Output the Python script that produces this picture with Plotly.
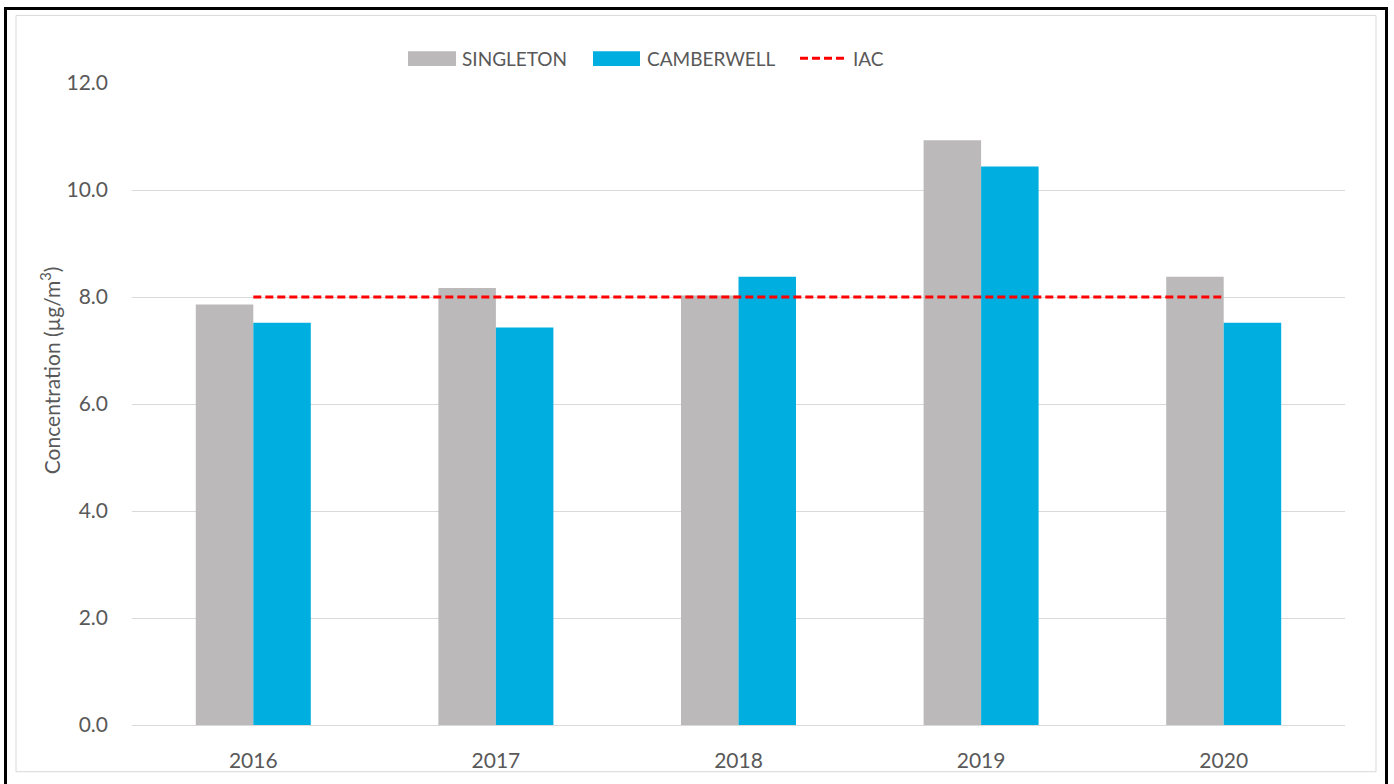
import plotly.graph_objects as go

# Annual mean concentrations by monitoring site
years = ["2016", "2017", "2018", "2019", "2020"]
singleton = [7.86, 8.17, 8.03, 10.93, 8.38]
camberwell = [7.52, 7.43, 8.38, 10.44, 7.52]
iac = [8.0, 8.0, 8.0, 8.0, 8.0]
y_ticks = [0, 2, 4, 6, 8, 10, 12]
y_tick_labels = ["0.0", "2.0", "4.0", "6.0", "8.0", "10.0", "12.0"]

GREY = "#bbb9ba"
BLUE = "#00afdf"
RED = "#ff0000"
TEXT = "#595959"
FONT = "Lato, 'Open Sans', sans-serif"

W, H = 1394, 784
L, R, T, B = 132, 49, 83, 55
PW, PH = W - L - R, H - T - B


def px_x(px):
    return (px - L) / PW


def px_y(py):
    return (H - B - py) / PH


fig = go.Figure()
fig.add_trace(go.Bar(x=years, y=singleton, name="SINGLETON",
                     marker=dict(color=GREY, line=dict(width=0))))
fig.add_trace(go.Bar(x=years, y=camberwell, name="CAMBERWELL",
                     marker=dict(color=BLUE, line=dict(width=0))))
fig.add_trace(go.Scatter(x=years, y=iac, name="IAC", mode="lines",
                         line=dict(color=RED, width=3, dash="8px,4px")))

shapes = [
    # outer frame
    dict(type="rect", xref="paper", yref="paper",
         x0=px_x(5.5), x1=px_x(1386.5), y0=px_y(795), y1=px_y(8),
         line=dict(color="black", width=3), fillcolor="rgba(0,0,0,0)", layer="above"),
    # inner chart-area border
    dict(type="rect", xref="paper", yref="paper",
         x0=px_x(16), x1=px_x(1376), y0=px_y(776), y1=px_y(15),
         line=dict(color="#d9d9d9", width=1), fillcolor="rgba(0,0,0,0)", layer="below"),
]

# legend row across the top
legend_y = 58
shapes += [
    dict(type="rect", xref="paper", yref="paper",
         x0=px_x(408), x1=px_x(456), y0=px_y(66), y1=px_y(51),
         fillcolor=GREY, line=dict(width=0)),
    dict(type="rect", xref="paper", yref="paper",
         x0=px_x(593), x1=px_x(640), y0=px_y(66), y1=px_y(51),
         fillcolor=BLUE, line=dict(width=0)),
    dict(type="line", xref="paper", yref="paper",
         x0=px_x(800), x1=px_x(847), y0=px_y(legend_y), y1=px_y(legend_y),
         line=dict(color=RED, width=3, dash="8px,4px")),
]

annotations = [
    dict(text="SINGLETON", x=px_x(460), y=px_y(legend_y), xref="paper", yref="paper",
         xanchor="left", yanchor="middle", showarrow=False,
         font=dict(family=FONT, size=19, color=TEXT)),
    dict(text="CAMBERWELL", x=px_x(645), y=px_y(legend_y), xref="paper", yref="paper",
         xanchor="left", yanchor="middle", showarrow=False,
         font=dict(family=FONT, size=19, color=TEXT)),
    dict(text="IAC", x=px_x(851), y=px_y(legend_y), xref="paper", yref="paper",
         xanchor="left", yanchor="middle", showarrow=False,
         font=dict(family=FONT, size=19, color=TEXT)),
    dict(text="Concentration (µg/m<sup>3</sup>)", x=px_x(50), y=px_y(372),
         xref="paper", yref="paper", xanchor="center", yanchor="middle",
         textangle=-90, showarrow=False,
         font=dict(family=FONT, size=21, color=TEXT)),
]

fig.update_layout(
    width=W, height=H,
    margin=dict(l=L, r=R, t=T, b=B, pad=0),
    paper_bgcolor="white", plot_bgcolor="white",
    barmode="group", bargap=0.526, bargroupgap=0,
    showlegend=False,
    shapes=shapes, annotations=annotations,
    font=dict(family=FONT, color=TEXT, size=19),
)
fig.update_xaxes(type="category", showgrid=False, showline=True,
                 linecolor="#d9d9d9", linewidth=1, ticks="",
                 ticklabelstandoff=17,
                 tickfont=dict(family=FONT, size=21, color=TEXT))
fig.update_yaxes(range=[0, 12], tickvals=y_ticks, ticktext=y_tick_labels,
                 showgrid=True, gridcolor="#d9d9d9", gridwidth=1,
                 zeroline=False, showline=False, ticks="",
                 ticklabelstandoff=23,
                 tickfont=dict(family=FONT, size=21, color=TEXT))

fig.write_html("out.html")
